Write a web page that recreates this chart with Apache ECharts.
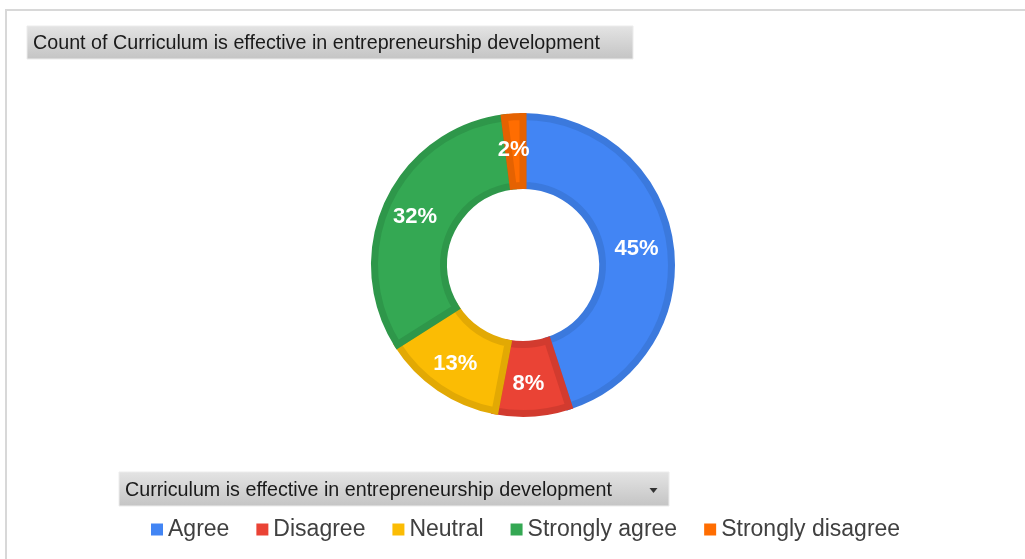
<!DOCTYPE html>
<html>
<head>
<meta charset="utf-8">
<script src="https://cdn.jsdelivr.net/npm/echarts@6/dist/echarts.min.js"></script>
<style>
html,body{margin:0;padding:0;background:#fff;}
#c{width:1025px;height:559px;}
</style>
</head>
<body>
<div id="c"></div>
<script>
const categories = ["Agree", "Disagree", "Neutral", "Strongly agree", "Strongly disagree"];
const values = [45, 8, 13, 32, 2];
const fillColors = ["#4285F4", "#EA4335", "#FBBC04", "#34A853", "#FF6D01"];
const edgeColors = ["#3B79DD", "#D23B2F", "#E2A904", "#2E974A", "#E56201"];
const chartTitle = "Count of Curriculum is effective in entrepreneurship development";
const fieldName = "Curriculum is effective in entrepreneurship development";

const fontFam = '"Liberation Sans", Arial, sans-serif';
function fitScale(text, size, target) {
  const ctx = document.createElement('canvas').getContext('2d');
  ctx.font = size + 'px ' + fontFam;
  return target / ctx.measureText(text).width;
}
const titleScale = fitScale(chartTitle, 21, 567);
const fieldScale = fitScale(fieldName, 21, 487);

const chart = echarts.init(document.getElementById('c'));
const grad = () => new echarts.graphic.LinearGradient(0, 0, 0, 1, [
  {offset: 0, color: '#e4e4e4'}, {offset: 1, color: '#c4c4c4'}
]);
chart.setOption({
  animation: false,
  backgroundColor: '#ffffff',
  legend: {
    data: categories,
    left: 146,
    top: 513,
    itemWidth: 12,
    itemHeight: 12,
    itemGap: 27,
    icon: 'rect',
    itemStyle: {borderWidth: 0},
    textStyle: {fontSize: 23, color: '#404040', fontFamily: fontFam}
  },
  graphic: [
    {type: 'rect', shape: {x: 6, y: 10, width: 1030, height: 560}, style: {fill: 'none', stroke: '#d8d8d8', lineWidth: 2}, silent: true},
    {type: 'rect', shape: {x: 27, y: 26, width: 606, height: 33}, style: {fill: grad(), stroke: '#ececec', lineWidth: 1}},
    {type: 'text', x: 33, y: 43, scaleX: titleScale, style: {text: chartTitle, fill: '#1a1a1a', fontSize: 21, fontFamily: fontFam, textVerticalAlign: 'middle'}},
    {type: 'rect', shape: {x: 119, y: 472, width: 550, height: 34}, style: {fill: grad(), stroke: '#ececec', lineWidth: 1}},
    {type: 'text', x: 125, y: 490, scaleX: fieldScale, style: {text: fieldName, fill: '#1a1a1a', fontSize: 21, fontFamily: fontFam, textVerticalAlign: 'middle'}},
    {type: 'polygon', shape: {points: [[649.5, 488], [657.5, 488], [653.5, 493]]}, style: {fill: '#333'}}
  ],
  series: [{
    type: 'pie',
    center: [523, 265],
    radius: [79.5, 148.5],
    startAngle: 90,
    clockwise: true,
    avoidLabelOverlap: false,
    data: categories.map((c, i) => ({
      name: c, value: values[i],
      itemStyle: {color: fillColors[i], borderColor: edgeColors[i], borderWidth: 7, borderJoin: 'miter'}
    })),
    label: {
      show: true, position: 'inside',
      formatter: p => Math.round(p.percent) + '%',
      color: '#fff', fontSize: 22, fontWeight: 'bold',
      fontFamily: fontFam,
      offset: [-2, 2]
    },
    labelLine: {show: false},
    emphasis: {disabled: true}
  }]
});
</script>
</body>
</html>
